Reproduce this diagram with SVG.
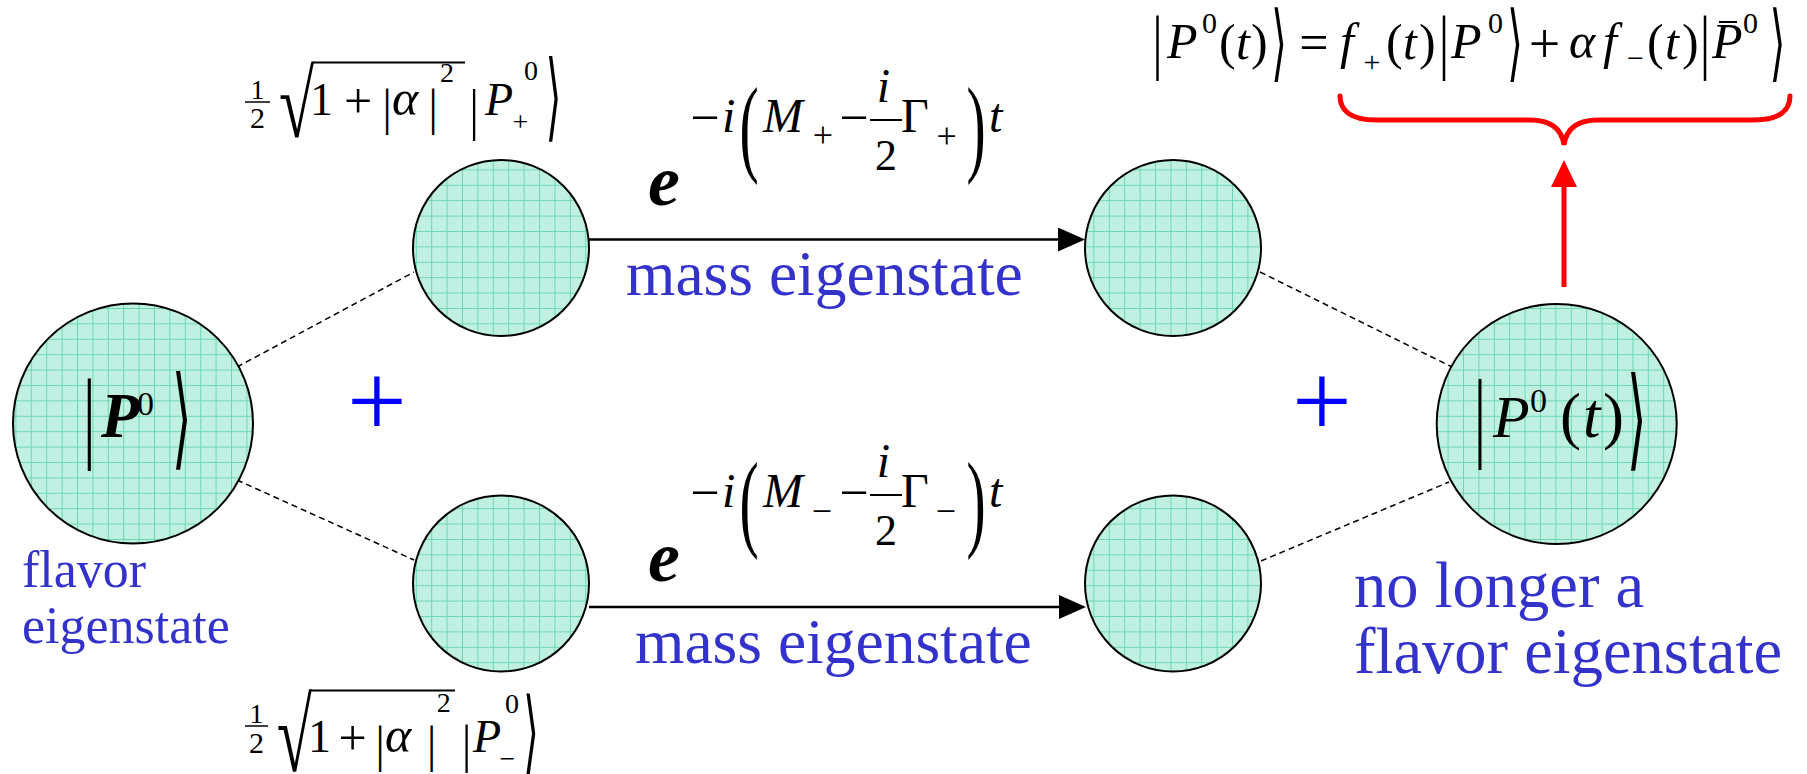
<svg xmlns="http://www.w3.org/2000/svg" width="1807" height="774" viewBox="0 0 1807 774">
<style>
.m{font-family:"Liberation Serif","Times New Roman",serif;fill:#000}
.i{font-style:italic}
.b{font-weight:bold}
.d{font-family:"DejaVu Sans",sans-serif;fill:#000}
.lbl{font-family:"Liberation Serif","Times New Roman",serif;fill:#3333CC}
.plus{font-family:"Liberation Serif","Times New Roman",serif;fill:#0000FF}
.node{fill:url(#grid);stroke:#000;stroke-width:2}
.dash{stroke:#000;stroke-width:1.5;stroke-dasharray:6 4;fill:none}
.arr{stroke:#000;stroke-width:2.5;fill:none;marker-end:url(#ah)}
</style>
<defs>
<pattern id="grid" width="15.4" height="15.4" patternUnits="userSpaceOnUse">
<rect width="15.4" height="15.4" fill="#C0F0E2"/>
<path d="M0 0.5H15.4M0.5 0V15.4" stroke="#3CC99B" stroke-width="1" opacity="0.65"/>
</pattern>
<marker id="ah" markerUnits="userSpaceOnUse" viewBox="0 0 27 24" refX="17" refY="12" markerWidth="27" markerHeight="24" orient="auto">
<path d="M0 0L27 12L0 24z" fill="#000"/>
</marker>
<marker id="rah" markerUnits="userSpaceOnUse" viewBox="0 0 27 26" refX="17" refY="13" markerWidth="27" markerHeight="26" orient="auto">
<path d="M0 0L27 13L0 26z" fill="#FF0000"/>
</marker>
</defs>
<rect width="1807" height="774" fill="#fff"/>

<g id="connectors">
<line class="dash" x1="237" y1="367" x2="414" y2="272"/>
<line class="dash" x1="237" y1="480" x2="414" y2="560"/>
<line class="dash" x1="1260" y1="272" x2="1452" y2="367"/>
<line class="dash" x1="1261" y1="561" x2="1449" y2="482"/>
<line class="arr" x1="589" y1="239.5" x2="1075" y2="239.5"/>
<line class="arr" x1="589" y1="607" x2="1076" y2="607"/>
<line x1="1564" y1="287" x2="1564" y2="170" stroke="#FF0000" stroke-width="5" marker-end="url(#rah)"/>
<path d="M1340 96C1340 110 1350 120 1376 120L1530 120C1552 120 1562 130 1564 145C1566 130 1576 120 1598 120L1754 120C1780 120 1790 110 1790 96" fill="none" stroke="#FF0000" stroke-width="5" stroke-linecap="round"/>
</g>

<g id="node-flavor">
<circle class="node" cx="133" cy="423.5" r="120"/>
<text class="m" font-size="63" text-anchor="middle" transform="translate(89.3,448.8) scale(1,1.6)">|</text>
<text class="m i b" font-size="63" x="101" y="437">P</text>
<text class="m" font-size="34" x="137" y="415">0</text>
<text class="d" font-size="50" text-anchor="middle" transform="translate(181.7,454.8) scale(1,2.217)">⟩</text>
<text class="lbl" font-size="52" x="22" y="587">flavor</text>
<text class="lbl" font-size="52" x="22" y="643">eigenstate</text>
</g>

<g id="node-mass-plus">
<circle class="node" cx="501" cy="248" r="88"/>
</g>
<g id="node-mass-minus">
<circle class="node" cx="501" cy="583.5" r="88"/>
</g>
<g id="node-evolved-plus">
<circle class="node" cx="1173" cy="248" r="88"/>
</g>
<g id="node-evolved-minus">
<circle class="node" cx="1173" cy="583.5" r="88"/>
</g>

<g id="node-result">
<circle class="node" cx="1556.7" cy="424" r="120"/>
<text class="m" font-size="60" text-anchor="middle" transform="translate(1480,449.3) scale(1,1.643)">|</text>
<text class="m i" font-size="60" x="1493" y="437">P</text>
<text class="m" font-size="34" x="1530" y="412">0</text>
<text class="m" font-size="63" x="1560" y="437">(</text>
<text class="m i" font-size="63" x="1583" y="437">t</text>
<text class="m" font-size="63" x="1603" y="437">)</text>
<text class="d" font-size="50" text-anchor="middle" transform="translate(1636.7,455.8) scale(1,2.217)">⟩</text>
<text class="lbl" font-size="64.5" x="1354" y="607">no longer a</text>
<text class="lbl" font-size="64.5" x="1354" y="673">flavor eigenstate</text>
</g>

<g id="plus-signs">
<text class="plus" font-size="106" x="377" y="436.6" text-anchor="middle">+</text>
<text class="plus" font-size="106" x="1322" y="436.6" text-anchor="middle">+</text>
</g>

<g id="mass-labels">
<text class="lbl" font-size="63.5" x="626" y="295">mass eigenstate</text>
<text class="lbl" font-size="63.5" x="635" y="663">mass eigenstate</text>
</g>

<g id="coef-plus">
<text class="m" font-size="28" x="257.5" y="99" text-anchor="middle">1</text>
<line x1="245" y1="102" x2="270" y2="102" stroke="#000" stroke-width="1.5"/>
<text class="m" font-size="30" x="257.5" y="128" text-anchor="middle">2</text>
<text class="m" font-size="80" transform="translate(279,137) scale(0.8,1.187)">√</text>
<line x1="312" y1="62.5" x2="465" y2="62.5" stroke="#000" stroke-width="2"/>
<text class="m" font-size="46" x="310" y="115">1</text>
<text class="m" font-size="50" x="358" y="118" text-anchor="middle">+</text>
<text class="m" font-size="46" text-anchor="middle" transform="translate(387,123.5) scale(1,1.083)">|</text>
<text class="m i" font-size="50" x="392" y="115">α</text>
<text class="m" font-size="46" text-anchor="middle" transform="translate(433,123.5) scale(1,1.083)">|</text>
<text class="m" font-size="28" x="440" y="82">2</text>
<text class="m" font-size="46" text-anchor="middle" transform="translate(474,129.1) scale(1,1.248)">|</text>
<text class="m i" font-size="46" x="485" y="115">P</text>
<text class="m" font-size="28" x="524" y="80">0</text>
<text class="m" font-size="28" x="520.5" y="130.5" text-anchor="middle">+</text>
<text class="d" font-size="40" text-anchor="middle" transform="translate(553.5,129.4) scale(1,2.41)">⟩</text>
</g>

<g id="coef-minus">
<text class="m" font-size="28" x="256.5" y="723" text-anchor="middle">1</text>
<line x1="245" y1="726" x2="268" y2="726" stroke="#000" stroke-width="1.5"/>
<text class="m" font-size="30" x="256.5" y="753" text-anchor="middle">2</text>
<text class="m" font-size="80" transform="translate(276.7,771) scale(0.8,1.293)">√</text>
<line x1="310" y1="690.5" x2="455" y2="690.5" stroke="#000" stroke-width="2"/>
<text class="m" font-size="46" x="308" y="752">1</text>
<text class="m" font-size="50" x="352.5" y="755" text-anchor="middle">+</text>
<text class="m" font-size="46" text-anchor="middle" transform="translate(380,760.5) scale(1,1.083)">|</text>
<text class="m i" font-size="50" x="385" y="752">α</text>
<text class="m" font-size="46" text-anchor="middle" transform="translate(431.7,760.5) scale(1,1.083)">|</text>
<text class="m" font-size="28" x="436.7" y="712">2</text>
<text class="m" font-size="46" text-anchor="middle" transform="translate(466.7,762.1) scale(1,1.13)">|</text>
<text class="m i" font-size="46" x="473" y="752">P</text>
<text class="m" font-size="28" x="505" y="713">0</text>
<text class="m" font-size="28" x="507.5" y="768" text-anchor="middle">−</text>
<text class="d" font-size="40" text-anchor="middle" transform="translate(531,762) scale(1,2.26)">⟩</text>
</g>

<g id="exp-plus">
<text class="m i b" font-size="72" x="648" y="205">e</text>
<text class="m" font-size="52" x="705" y="134.6" text-anchor="middle">−</text>
<text class="m i" font-size="48" x="722" y="132">i</text>
<text class="m" font-size="48" text-anchor="middle" transform="translate(749,161.6) scale(1.2,2.25)">(</text>
<text class="m i" font-size="48" x="763" y="132">M</text>
<text class="m" font-size="36" x="823" y="146.5" text-anchor="middle">+</text>
<text class="m" font-size="52" x="854" y="134.6" text-anchor="middle">−</text>
<text class="m i" font-size="48" x="883.5" y="102" text-anchor="middle">i</text>
<line x1="870" y1="120" x2="902" y2="120" stroke="#000" stroke-width="2"/>
<text class="m" font-size="44" x="886" y="170" text-anchor="middle">2</text>
<text class="m" font-size="48" x="901" y="132">Γ</text>
<text class="m" font-size="36" x="946.7" y="148" text-anchor="middle">+</text>
<text class="m" font-size="48" text-anchor="middle" transform="translate(976,161.6) scale(1.2,2.25)">)</text>
<text class="m i" font-size="48" x="989" y="132">t</text>
</g>

<g id="exp-minus">
<text class="m i b" font-size="72" x="648" y="581">e</text>
<text class="m" font-size="52" x="705" y="509.6" text-anchor="middle">−</text>
<text class="m i" font-size="48" x="722" y="507">i</text>
<text class="m" font-size="48" text-anchor="middle" transform="translate(749,536.6) scale(1.2,2.25)">(</text>
<text class="m i" font-size="48" x="763" y="507">M</text>
<text class="m" font-size="36" x="822" y="523" text-anchor="middle">−</text>
<text class="m" font-size="52" x="854" y="509.6" text-anchor="middle">−</text>
<text class="m i" font-size="48" x="883.5" y="477" text-anchor="middle">i</text>
<line x1="870" y1="495" x2="902" y2="495" stroke="#000" stroke-width="2"/>
<text class="m" font-size="44" x="886" y="545" text-anchor="middle">2</text>
<text class="m" font-size="48" x="901" y="507">Γ</text>
<text class="m" font-size="36" x="946" y="523" text-anchor="middle">−</text>
<text class="m" font-size="48" text-anchor="middle" transform="translate(976,536.6) scale(1.2,2.25)">)</text>
<text class="m i" font-size="48" x="989" y="507">t</text>
</g>

<g id="result-formula">
<text class="m" font-size="50" text-anchor="middle" transform="translate(1157.6,66.2) scale(1,1.452)">|</text>
<text class="m i" font-size="50" x="1167" y="58">P</text>
<text class="m" font-size="30" x="1202" y="33">0</text>
<text class="m" font-size="50" x="1219" y="59">(</text>
<text class="m i" font-size="50" x="1236" y="59">t</text>
<text class="m" font-size="50" x="1251" y="59">)</text>
<text class="d" font-size="40" text-anchor="middle" transform="translate(1279,70.5) scale(1,2.1)">⟩</text>
<text class="m" font-size="52" x="1314" y="60" text-anchor="middle">=</text>
<text class="m i" font-size="50" x="1340" y="58">f</text>
<text class="m" font-size="30" x="1372" y="72" text-anchor="middle">+</text>
<text class="m" font-size="50" x="1386" y="59">(</text>
<text class="m i" font-size="50" x="1403" y="59">t</text>
<text class="m" font-size="50" x="1419" y="59">)</text>
<text class="m" font-size="50" text-anchor="middle" transform="translate(1444,66.2) scale(1,1.452)">|</text>
<text class="m i" font-size="50" x="1451" y="58">P</text>
<text class="m" font-size="30" x="1488" y="33">0</text>
<text class="d" font-size="40" text-anchor="middle" transform="translate(1515,70.5) scale(1,2.1)">⟩</text>
<text class="m" font-size="56" x="1544.5" y="63" text-anchor="middle">+</text>
<text class="m i" font-size="50" x="1569" y="58">α</text>
<text class="m i" font-size="50" x="1603" y="58">f</text>
<text class="m" font-size="30" x="1635.5" y="68.4" text-anchor="middle">−</text>
<text class="m" font-size="50" x="1647" y="59">(</text>
<text class="m i" font-size="50" x="1665" y="59">t</text>
<text class="m" font-size="50" x="1682" y="59">)</text>
<text class="m" font-size="50" text-anchor="middle" transform="translate(1705,66.2) scale(1,1.452)">|</text>
<text class="m i" font-size="50" x="1712" y="58">P</text>
<line x1="1719" y1="22" x2="1737" y2="22" stroke="#000" stroke-width="2"/>
<text class="m" font-size="30" x="1743" y="33">0</text>
<text class="d" font-size="40" text-anchor="middle" transform="translate(1777.5,70.5) scale(1,2.1)">⟩</text>
</g>
</svg>
